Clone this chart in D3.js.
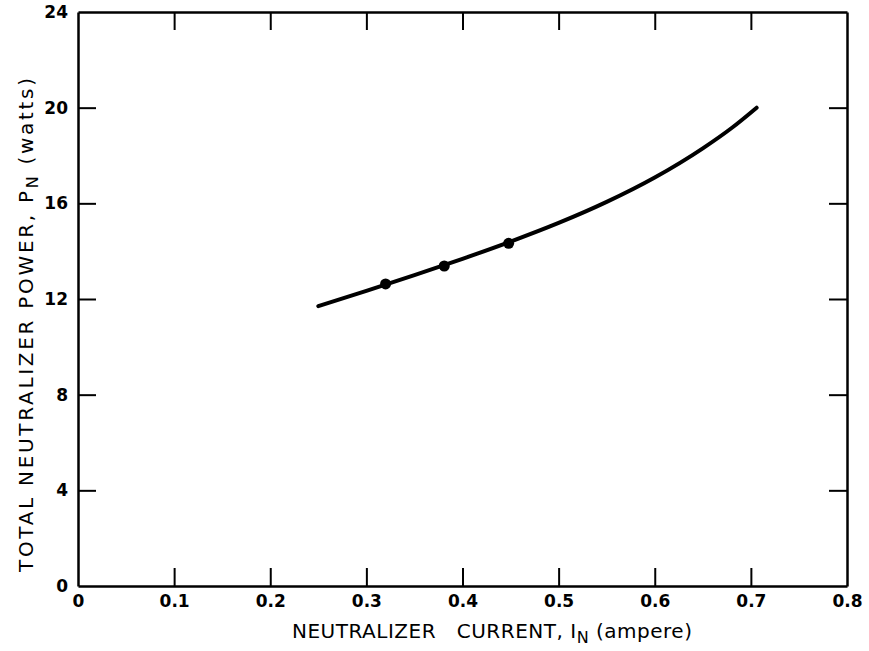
<!DOCTYPE html>
<html>
<head>
<meta charset="UTF-8">
<title>Neutralizer power</title>
<script src="https://cdn.jsdelivr.net/npm/d3@7"></script>
<style>
  body { margin: 0; background: #fff; }
  text { font-family: "DejaVu Sans", sans-serif; fill: #000; }
</style>
</head>
<body>
<script>
// curve
var curveI = [0.25, 0.30, 0.35, 0.40, 0.45, 0.50, 0.55, 0.60, 0.65, 0.68, 0.706];
var curveP = [11.7, 12.34, 13.0, 13.68, 14.40, 15.18, 16.06, 17.08, 18.30, 19.15, 20.0];
// measured points
var pointI = [0.32, 0.381, 0.448];
var pointP = [12.63, 13.38, 14.33];
// ticks
var xTicks = [0, 0.1, 0.2, 0.3, 0.4, 0.5, 0.6, 0.7, 0.8];
var yTicks = [0, 4, 8, 12, 16, 20, 24];

var width = 869, height = 651;
var margin = {top: 12, right: 22, bottom: 65, left: 78};

var svg = d3.select("body").append("svg")
  .attr("width", width)
  .attr("height", height);

var x = d3.scaleLinear().domain([0, 0.8]).range([margin.left, width - margin.right]);
var y = d3.scaleLinear().domain([0, 24]).range([height - margin.bottom, margin.top]);

var tickLen = 18;

// bottom axis, ticks pointing in
var xAxis = svg.append("g")
  .attr("transform", "translate(0," + y(0) + ")")
  .call(d3.axisBottom(x).tickValues(xTicks).tickSizeInner(-tickLen).tickSizeOuter(0).tickPadding(9)
    .tickFormat(function(d){ return d === 0 ? "0" : d3.format(".1f")(d); }));
// top axis
var xTop = svg.append("g")
  .attr("transform", "translate(0," + y(24) + ")")
  .call(d3.axisTop(x).tickValues(xTicks).tickSizeInner(-tickLen).tickSizeOuter(0).tickFormat(""));
// left axis
var yAxis = svg.append("g")
  .attr("transform", "translate(" + x(0) + ",0)")
  .call(d3.axisLeft(y).tickValues(yTicks).tickSizeInner(-tickLen).tickSizeOuter(0).tickPadding(10)
    .tickFormat(d3.format("d")));
// right axis
var yRight = svg.append("g")
  .attr("transform", "translate(" + x(0.8) + ",0)")
  .call(d3.axisRight(y).tickValues(yTicks).tickSizeInner(-tickLen).tickSizeOuter(0).tickFormat(""));

[xAxis, xTop, yAxis, yRight].forEach(function(g){
  g.select(".domain").attr("stroke", "#000").attr("stroke-width", 2.5);
  g.selectAll(".tick line").attr("stroke", "#000").attr("stroke-width", 2);
  g.selectAll(".tick text")
    .attr("font-size", 17)
    .attr("font-weight", "bold")
    .attr("font-family", "DejaVu Sans")
    .attr("fill", "#000");
});
// no tick marks on the corners
xAxis.selectAll(".tick").filter(function(d){ return d === 0 || d === 0.8; }).select("line").remove();
xTop.selectAll(".tick").filter(function(d){ return d === 0 || d === 0.8; }).select("line").remove();
yAxis.selectAll(".tick").filter(function(d){ return d === 0 || d === 24; }).select("line").remove();
yRight.selectAll(".tick").filter(function(d){ return d === 0 || d === 24; }).select("line").remove();

// curve
var data = curveI.map(function(d, i){ return {i: d, p: curveP[i]}; });
var line = d3.line()
  .x(function(d){ return x(d.i); })
  .y(function(d){ return y(d.p); })
  .curve(d3.curveMonotoneX);

svg.append("path")
  .datum(data)
  .attr("fill", "none")
  .attr("stroke", "#000")
  .attr("stroke-width", 4)
  .attr("stroke-linecap", "round")
  .attr("d", line);

// points
svg.selectAll("circle.pt")
  .data(pointI.map(function(d, i){ return {i: d, p: pointP[i]}; }))
  .enter().append("circle")
  .attr("class", "pt")
  .attr("cx", function(d){ return x(d.i); })
  .attr("cy", function(d){ return y(d.p); })
  .attr("r", 5.5)
  .attr("fill", "#000");

// x axis title
var xt = svg.append("text")
  .attr("x", 292)
  .attr("y", 638)
  .attr("font-size", 20)
  .attr("font-weight", 500)
  .attr("textLength", 400)
  .attr("lengthAdjust", "spacing");
xt.append("tspan").text("NEUTRALIZER\u00a0\u00a0 CURRENT, I");
xt.append("tspan").attr("dy", 5).attr("font-size", 16).text("N");
xt.append("tspan").attr("dy", -5).text(" (ampere)");

// y axis title
var yt = svg.append("text")
  .attr("transform", "translate(33,572) rotate(-90)")
  .attr("font-size", 20)
  .attr("textLength", 494)
  .attr("lengthAdjust", "spacing");
yt.append("tspan").text("TOTAL NEUTRALIZER POWER, P");
yt.append("tspan").attr("dy", 5).attr("font-size", 16).text("N");
yt.append("tspan").attr("dy", -5).text(" (watts)");
</script>
</body>
</html>
